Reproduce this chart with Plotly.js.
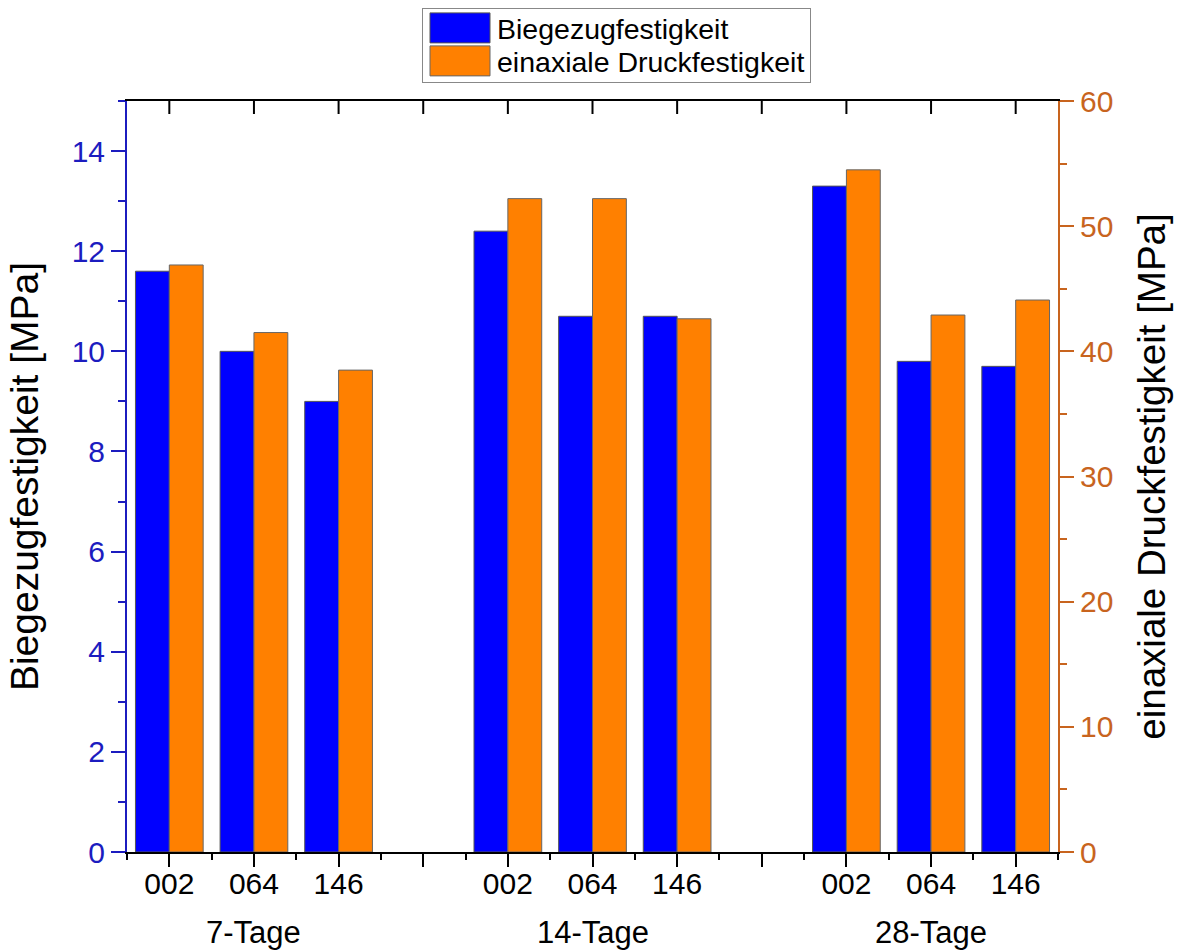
<!DOCTYPE html>
<html>
<head>
<meta charset="utf-8">
<script src="https://cdn.plot.ly/plotly-3.0.1.min.js"></script>
<style>html,body{margin:0;padding:0;background:#fff;}#chart{width:1178px;height:950px;}</style>
</head>
<body>
<div id="chart"></div>
<script>
// ---- data ----
const groups = ['7-Tage', '14-Tage', '28-Tage'];
const samples = ['002', '064', '146'];
const biegezug = [11.6, 10.0, 9.0, 12.4, 10.7, 10.7, 13.3, 9.8, 9.7];      // MPa (left axis)
const druck = [46.9, 41.5, 38.5, 52.2, 52.2, 42.6, 54.5, 42.9, 44.1];      // MPa (right axis)
const seriesNames = ['Biegezugfestigkeit', 'einaxiale Druckfestigkeit'];

// ---- positions: each group is followed by one empty slot ----
const slot = samples.length + 1;
const xpos = [], sampleLabels = [];
groups.forEach((g, gi) => samples.forEach((s, si) => { xpos.push(gi * slot + si + 1); sampleLabels.push(s); }));
const nSlots = groups.length * slot - 1;
const tickvals = [], ticktext = [];
for (let p = 1; p <= nSlots; p++) { tickvals.push(p); const k = xpos.indexOf(p); ticktext.push(k >= 0 ? sampleLabels[k] : ''); }
const groupCenters = groups.map((g, gi) => gi * slot + (samples.length + 1) / 2);

const BLUE_AX = '#1c1cbf', ORANGE_AX = '#c8641e';
const FONT = 'Liberation Sans, Arial, sans-serif';

const traces = [
  { type: 'bar', name: seriesNames[0], x: xpos, y: biegezug, xaxis: 'x', yaxis: 'y',
    width: 0.4, offset: -0.4, marker: { color: '#0000ff', line: { color: '#555555', width: 1 } } },
  { type: 'bar', name: seriesNames[1], x: xpos, y: druck, xaxis: 'x2', yaxis: 'y2',
    width: 0.4, offset: 0, marker: { color: '#ff8000', line: { color: '#666666', width: 1 } } }
];

const xRange = [0.5, nSlots + 0.5];
const TOP_TICKLEN = 13;

const layout = {
  width: 1178, height: 950,
  margin: { l: 127, r: 120, t: 101, b: 98, autoexpand: false },
  paper_bgcolor: '#ffffff', plot_bgcolor: '#ffffff',
  font: { family: FONT, color: '#000000' },
  barmode: 'overlay',
  showlegend: true,
  legend: { x: (422 - 127) / 931, y: 1.124, xanchor: 'left', yanchor: 'top',
    bgcolor: '#ffffff', bordercolor: '#888888', borderwidth: 1,
    font: { family: FONT, size: 28.5, color: '#000000' }, itemwidth: 64, tracegroupgap: 0 },
  xaxis: { range: xRange, tickmode: 'array', tickvals: tickvals, ticktext: ticktext,
    ticks: 'outside', ticklen: 13, tickwidth: 2, tickcolor: '#000', showline: true, linecolor: '#000', linewidth: 2,
    showgrid: false, zeroline: false, tickfont: { family: FONT, size: 30, color: '#000' }, ticklabelstandoff: -9,
    minor: { tick0: 0.5, dtick: 1, ticks: 'outside', ticklen: 6, tickwidth: 2, tickcolor: '#000', showgrid: false } },
  xaxis2: { overlaying: 'x', side: 'top', anchor: 'y2', range: xRange, tickmode: 'linear', tick0: 1, dtick: 1,
    ticks: 'inside', ticklen: TOP_TICKLEN, tickwidth: 2, tickcolor: '#000000', showticklabels: false, showline: true,
    linecolor: '#000', linewidth: 2, showgrid: false, zeroline: false },
  yaxis: { range: [0, 15], tick0: 0, dtick: 2, ticks: 'outside', ticklen: 14, tickwidth: 2, tickcolor: BLUE_AX,
    showline: true, linecolor: BLUE_AX, linewidth: 2, showgrid: false, zeroline: false,
    tickfont: { family: FONT, size: 30, color: BLUE_AX },
    minor: { tick0: 0, dtick: 1, ticks: 'outside', ticklen: 7, tickwidth: 2, tickcolor: BLUE_AX, showgrid: false },
    title: { text: 'Biegezugfestigkeit [MPa]', font: { family: FONT, size: 39, color: '#000' } } },
  yaxis2: { overlaying: 'y', side: 'right', anchor: 'x', range: [0, 60], tick0: 0, dtick: 10, ticks: 'outside', ticklen: 14,
    tickwidth: 2, tickcolor: ORANGE_AX, showline: true, linecolor: ORANGE_AX, linewidth: 2, showgrid: false, zeroline: false,
    tickfont: { family: FONT, size: 30, color: ORANGE_AX },
    minor: { tick0: 0, dtick: 5, ticks: 'outside', ticklen: 7, tickwidth: 2, tickcolor: ORANGE_AX, showgrid: false },
    title: { text: 'einaxiale Druckfestigkeit [MPa]', font: { family: FONT, size: 38.5, color: '#000' } } },
  annotations: groups.map((g, gi) => ({ text: g, x: groupCenters[gi], xref: 'x', y: -0.107, yref: 'paper',
    showarrow: false, xanchor: 'center', yanchor: 'middle', font: { family: FONT, size: 31, color: '#000' } }))
};

const gd = document.getElementById('chart');
Plotly.newPlot(gd, traces, layout, { staticPlot: true }).then(() => {
  // larger legend swatches and tighter rows, like the reference
  document.querySelectorAll('.legend .legendpoints path').forEach(p => {
    p.setAttribute('d', 'M30,15H-30V-15H30Z');
  });
  const items = document.querySelectorAll('.legend g.traces');
  items.forEach((it, i) => {
    const m = /translate\(([-\d.]+),\s*([-\d.]+)\)/.exec(it.getAttribute('transform') || '');
    const x = m ? m[1] : 0;
    it.setAttribute('transform', 'translate(' + x + ',' + (20 + i * 33) + ')');
  });
  const bg = document.querySelector('.legend rect.bg');
  if (bg) bg.setAttribute('height', 74);

  // inward ticks on the top axis, placed through the x axis scale, in the visible tick layer
  const mainTick = document.querySelector('path.xtick');
  const layer = mainTick ? mainTick.parentNode : null;
  if (layer) {
    document.querySelectorAll('path.x2tick').forEach(p => p.remove());
    const xa = gd._fullLayout.xaxis;
    const top = gd._fullLayout._size.t;
    tickvals.forEach(v => {
      const px = xa._offset + xa.l2p(v);
      const path = document.createElementNS('http://www.w3.org/2000/svg', 'path');
      path.setAttribute('d', 'M' + px + ',' + top + 'v' + TOP_TICKLEN);
      path.setAttribute('style', 'stroke:#000000;stroke-width:2px;fill:none');
      layer.appendChild(path);
    });
  }
});
</script>
</body>
</html>
